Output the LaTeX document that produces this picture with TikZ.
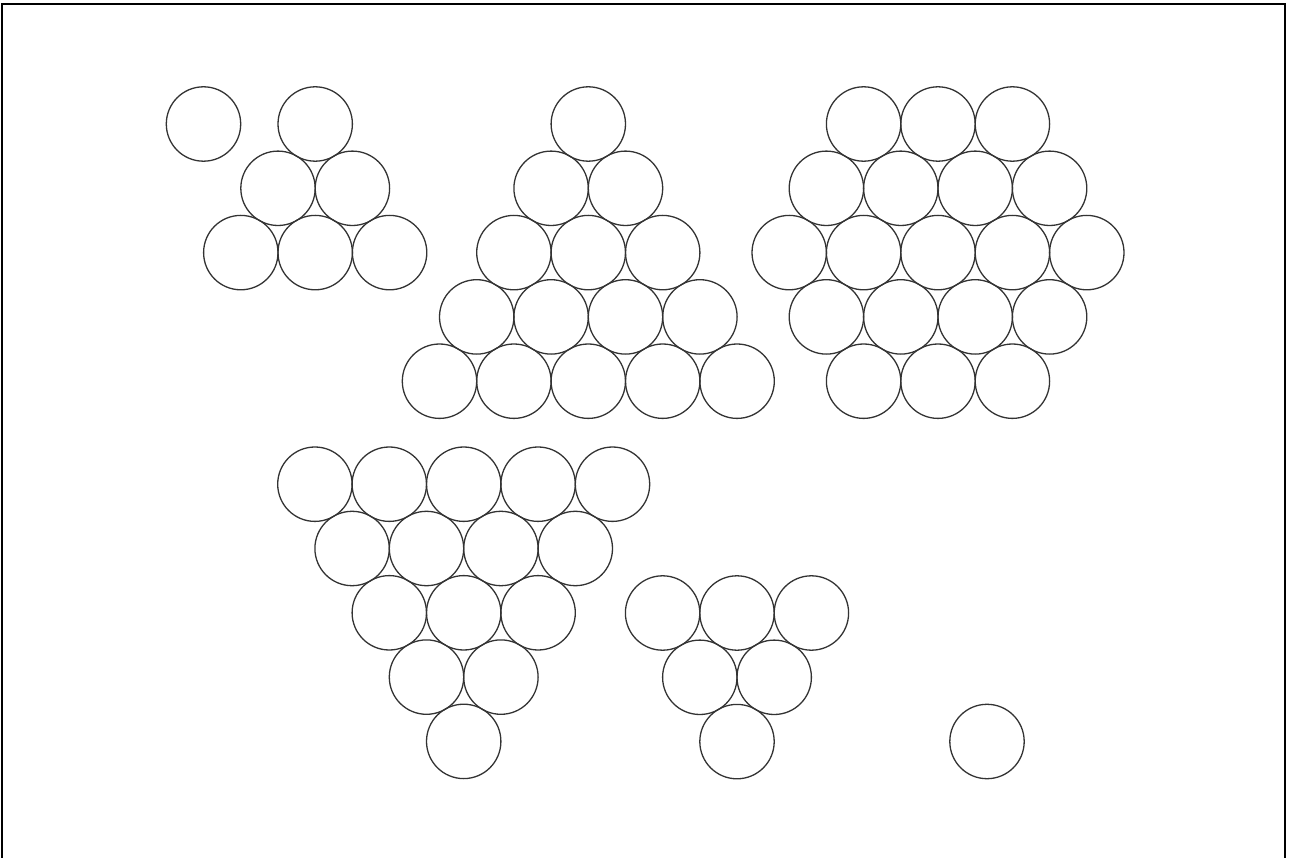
\documentclass[tikz,border=0pt]{standalone}
\begin{document}
\begin{tikzpicture}[x=1pt,y=-1pt,
  ball/.style={circle,draw=black!80,line width=1.3pt,minimum size=74.4pt,inner sep=0pt,outer sep=0pt},
  frameline/.style={draw=black,line width=2.2pt}]
\def\dd{74.4}
\def\hh{64.3}
\useasboundingbox (0,0) rectangle (1293,858);
\draw[frameline] (2.2,875) -- (2.2,4) -- (1284.7,4) -- (1284.7,875);
% group 1: triangle of 3 rows plus one single ball
\node[ball] (s1) at (203.5,124) {};
\foreach \k in {0,1,2}{
  \foreach \j in {0,...,\k}{
    \node[ball] (a-\k-\j) at ({315.2-\k*\dd/2+\j*\dd},{124+\k*\hh}) {};
  }
}
% group 2: triangle of 5 rows
\foreach \k in {0,...,4}{
  \foreach \j in {0,...,\k}{
    \node[ball] (b-\k-\j) at ({588.3-\k*\dd/2+\j*\dd},{124+\k*\hh}) {};
  }
}
% group 3: hexagon
\foreach \k/\n in {0/3,1/4,2/5,3/4,4/3}{
  \pgfmathtruncatemacro{\m}{\n-1}
  \foreach \j in {0,...,\m}{
    \node[ball] (c-\k-\j) at ({938-\m*\dd/2+\j*\dd},{124+\k*\hh}) {};
  }
}
% group 4: inverted triangle of 5 rows
\foreach \k in {0,...,4}{
  \pgfmathtruncatemacro{\m}{4-\k}
  \foreach \j in {0,...,\m}{
    \node[ball] (d-\k-\j) at ({463.7-\m*\dd/2+\j*\dd},{484.2+\k*\hh}) {};
  }
}
% group 5: inverted triangle of 3 rows
\foreach \k in {0,1,2}{
  \pgfmathtruncatemacro{\m}{2-\k}
  \foreach \j in {0,...,\m}{
    \node[ball] (e-\k-\j) at ({737-\m*\dd/2+\j*\dd},{613+\k*\hh}) {};
  }
}
% group 6: single ball
\node[ball] (s2) at (987,741.5) {};
\end{tikzpicture}
\end{document}
